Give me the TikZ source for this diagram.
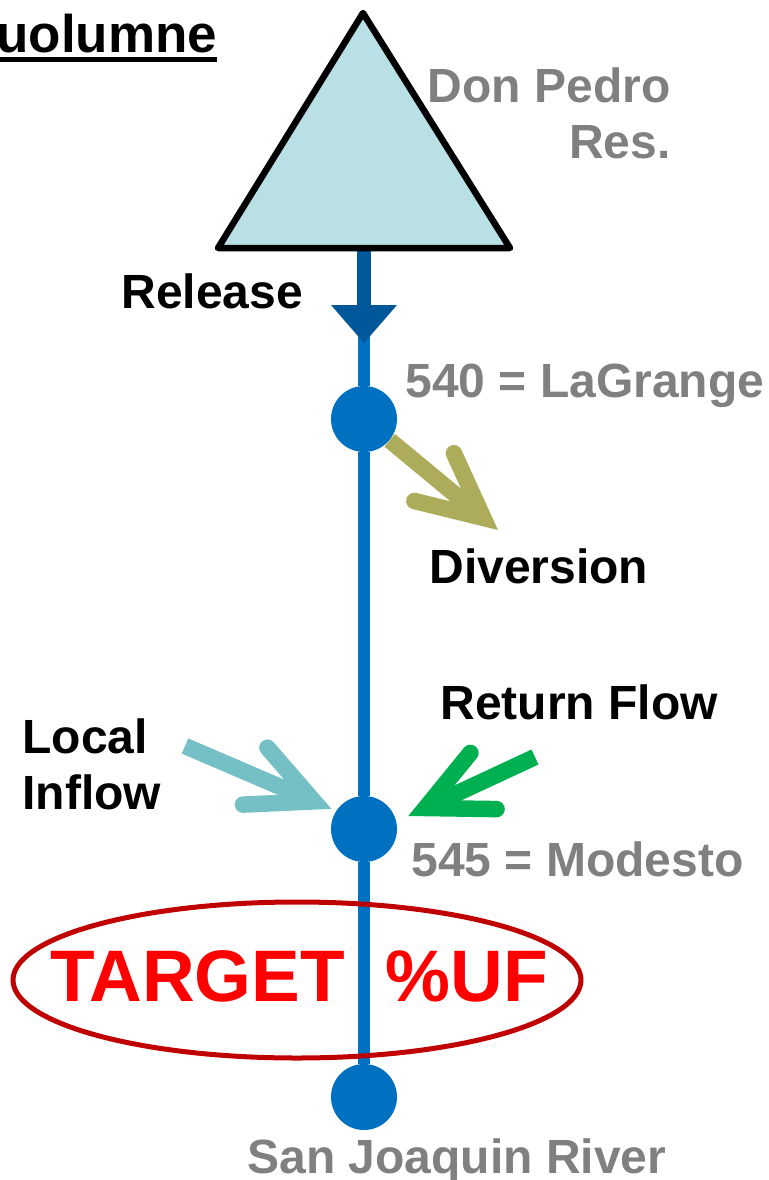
\documentclass[tikz,border=0pt]{standalone}
\usepackage{fontspec}
\setmainfont{Liberation Sans}
\usetikzlibrary{arrows.meta,shapes.geometric}

\definecolor{riverblue}{RGB}{0,112,192}
\definecolor{relblue}{RGB}{0,88,155}
\definecolor{resfill}{RGB}{185,224,228}
\definecolor{labgray}{RGB}{128,128,128}
\definecolor{divolive}{RGB}{173,172,90}
\definecolor{inteal}{RGB}{116,192,196}
\definecolor{retgreen}{RGB}{0,176,80}
\definecolor{tgtred}{RGB}{192,0,0}

\newcommand{\undl}[1]{\setbox0\hbox{#1}\rlap{\rule[-5pt]{\wd0}{2.5pt}}\box0}

\begin{document}
\begin{tikzpicture}
		[x=0.5pt,y=-0.5pt,
		gage/.style={circle,inner sep=0pt,minimum size=33pt,fill=riverblue},
		river/.style={-,line width=6pt,draw=riverblue},
		flow/.style={line width=8.25pt,-{Straight Barb[length=32pt,width=31pt,line cap=round,line join=miter]}},
		relarr/.style={line width=7pt,draw=relblue,fill=relblue,-{Triangle[length=19pt,width=33pt,line width=0pt]}},
		lab/.style={font=\fontsize{24}{28}\selectfont\bfseries,inner sep=0pt},
		glab/.style={lab,text=labgray}]

		\useasboundingbox (0,0) rectangle (769,1180);

		\coordinate (dpr) at (364,248);

		\node[gage] (n540) at (364,419) {}
			edge [river]	(dpr)
		;

		\node[gage] (n545) at (364,829) {}
			edge [river]	(n540)
		;

		\node[gage] (nsjr) at (364,1097) {}
			edge [river]	(n545)
		;

		\coordinate (rel) at (364,343);
		\draw[relarr] (dpr) -- (rel);

		\draw[line width=3.25pt,line join=round,fill=resfill] (218,248) -- (363,13) -- (510,248) -- cycle;

		\coordinate (divto) at (498,530);
		\coordinate (locfrom) at (185,746);
		\coordinate (retfrom) at (535,757);

		\draw[flow,draw=divolive] (n540) -- (divto);
		\draw[flow,draw=inteal,shorten >=2.5pt] (locfrom) -- (n545.147);
		\draw[flow,draw=retgreen,shorten >=6.5pt] (retfrom) -- (n545.13);

		\node[ellipse,draw=tgtred,line width=2.5pt,minimum width=284pt,minimum height=78pt,inner sep=0pt] (tgt) at (297,980) {};
		\node[font=\fontsize{36.5}{40}\selectfont\bfseries,text=red,inner sep=0pt] (tgttxt) at (299,976) {TARGET\ \ \%UF};

		\node[lab,anchor=base west,font=\fontsize{26.5}{30}\selectfont\bfseries] (tuol) at (-4,52) {\undl{uolumne}};
		\node[glab,anchor=north east,align=right] (dplab) at (671,67) {Don Pedro\\Res.};
		\node[lab,anchor=base west] (rellab) at (121,308) {Release};
		\node[glab,anchor=base west] (lab540) at (405,397) {540 = LaGrange};
		\node[lab,anchor=base west] (divlab) at (429,583) {Diversion};
		\node[lab,anchor=base west] (retlab) at (440,719) {Return Flow};
		\node[lab,anchor=north west,align=left] (loclab) at (22,718) {Local\\Inflow};
		\node[glab,anchor=base west] (lab545) at (411,876) {545 = Modesto};
		\node[glab,anchor=base west] (sjrlab) at (247,1173) {San Joaquin River};

	\end{tikzpicture}
\end{document}
